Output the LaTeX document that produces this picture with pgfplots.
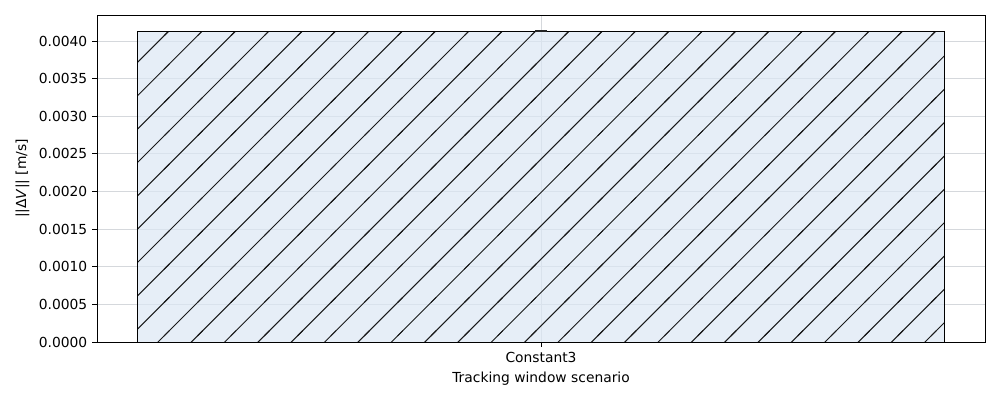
\documentclass[border=0pt]{standalone}
\usepackage{pgfplots}
\pgfplotsset{compat=1.18}
\usepackage{fontspec}
\setmainfont{DejaVu Sans}
\usetikzlibrary{patterns}
\definecolor{barfill}{HTML}{DBE7F4}
\definecolor{gridc}{HTML}{D5D8DC}
% one "/" line per tile, drawn past the tile edges so that neighbours join
\pgfdeclarepatternformonly{hatch}{\pgfpoint{-2pt}{-2pt}}{\pgfpoint{26.1pt}{26.1pt}}{\pgfpoint{24.1pt}{24.1pt}}{
  \pgfsetlinewidth{0.72pt}
  \pgfpathmoveto{\pgfpoint{-2pt}{-2pt}}
  \pgfpathlineto{\pgfpoint{26.1pt}{26.1pt}}
  \pgfusepath{stroke}
}
\begin{document}
\begin{tikzpicture}[x=0.7227pt,y=0.7227pt]
\useasboundingbox (-97,-58) rectangle (903,342);
\begin{axis}[
  at={(0,0)}, anchor=south west,
  scale only axis,
  width=641.8pt, height=236.3pt,
  xmin=-0.44, xmax=0.44,
  ymin=0, ymax=0.004346,
  xtick={0}, xticklabels={Constant3},
  ytick={0,0.0005,...,0.0041},
  scaled y ticks=false,
  yticklabel style={/pgf/number format/.cd, fixed, fixed zerofill, precision=4},
  /pgf/number format/assume math mode=true,
  tick label style={font=\fontsize{10}{12}\selectfont},
  label style={font=\fontsize{10}{12}\selectfont},
  xlabel={Tracking window scenario},
  ylabel={||Δ\textit{V}|| [m/s]},
  grid=major,
  major grid style={gridc, line width=0.6pt},
  tick align=outside,
  major tick length=3.5pt,
  xtick pos=lower, ytick pos=left,
  axis line style={line width=0.6pt},
  tick style={black, line width=0.6pt},
]
\addplot[ybar, bar width=0.8, draw=black, line width=0.72pt, fill=barfill, fill opacity=0.7, draw opacity=1,
  postaction={fill opacity=1, pattern=hatch, pattern color=black!90}]
  coordinates {(0,0.004133)};
\addplot[draw=none, mark=none,
  error bars/.cd, y dir=both, y explicit,
  error bar style={line width=1.8pt, draw=black!85},
  error mark options={rotate=90, mark size=4.4pt, line width=1.8pt, draw=black!85}]
  coordinates {(0,0.004133) +- (0,0.000001)};
\end{axis}
\end{tikzpicture}
\end{document}
